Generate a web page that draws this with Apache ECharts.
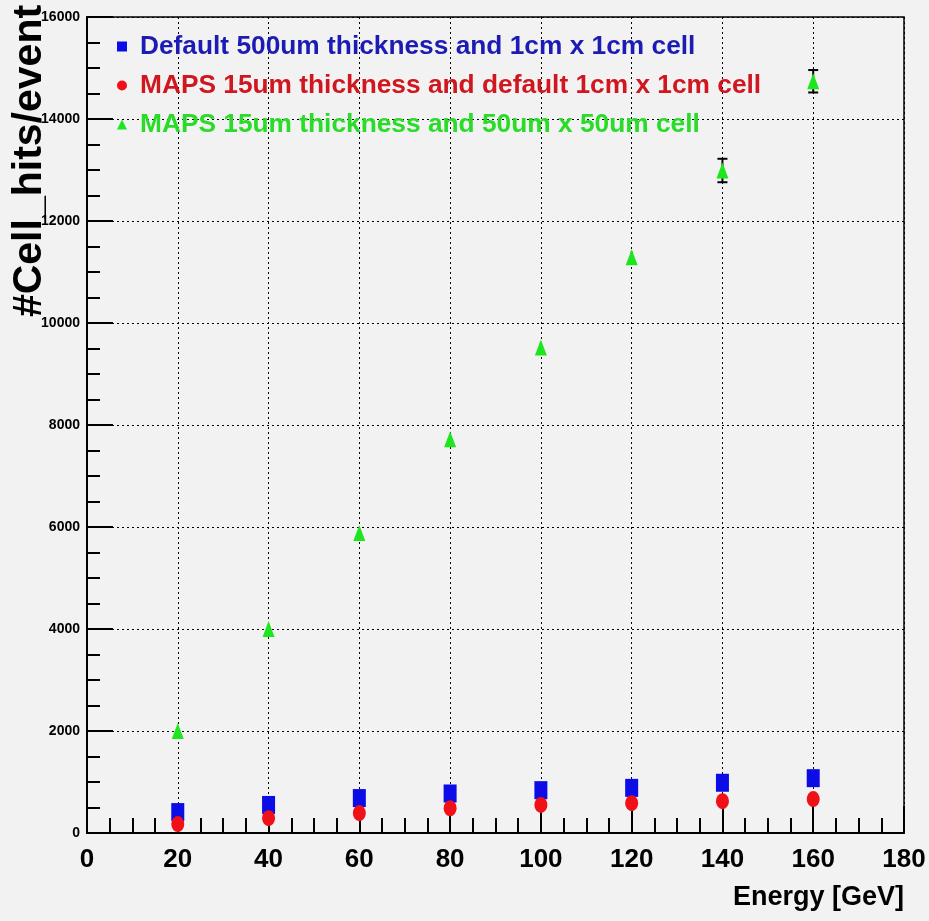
<!DOCTYPE html>
<html>
<head>
<meta charset="utf-8">
<script src="https://cdn.jsdelivr.net/npm/echarts@6/dist/echarts.min.js"></script>
<style>
html,body{margin:0;padding:0;background:#f2f2f2;}
#chart{width:929px;height:921px;}
</style>
</head>
<body>
<div id="chart"></div>
<script>
var energies = [20, 40, 60, 80, 100, 120, 140, 160];
var defaultHits = [410, 550, 685, 775, 840, 885, 985, 1075];
var mapsDefaultCellHits = [175, 290, 390, 485, 550, 585, 625, 665];
var mapsSmallCellHits = [2000, 4000, 5880, 7720, 9520, 11290, 12990, 14740];
var mapsSmallCellErr = [40, 60, 80, 90, 100, 110, 230, 220];
var xTicks = [0, 20, 40, 60, 80, 100, 120, 140, 160, 180];
var yTicks = [0, 2000, 4000, 6000, 8000, 10000, 12000, 14000, 16000];

var seriesNames = [
  'Default 500um thickness and 1cm x 1cm cell',
  'MAPS 15um thickness and default 1cm x 1cm cell',
  'MAPS 15um thickness and 50um x 50um cell'
];

var font = "'Liberation Sans', Arial, Helvetica, sans-serif";

function pairs(xs, ys) {
  return xs.map(function (x, i) { return [x, ys[i]]; });
}

var chart = echarts.init(document.getElementById('chart'));
chart.setOption({
  backgroundColor: '#f2f2f2',
  animation: false,
  grid: {
    left: 87, right: 25, top: 17, bottom: 88,
    containLabel: false, outerBoundsMode: 'none',
    show: true, borderColor: '#000', borderWidth: 1.5, backgroundColor: 'transparent'
  },
  legend: {
    orient: 'vertical',
    left: 112, top: 25,
    itemGap: 6,
    itemWidth: 10, itemHeight: 10,
    textStyle: { fontFamily: font, fontWeight: 'bold', fontSize: 26.3, lineHeight: 33, padding: [0, 0, 0, 8] },
    data: [
      { name: seriesNames[0], icon: 'rect', textStyle: { color: '#1c1cb4' } },
      { name: seriesNames[1], icon: 'circle', textStyle: { color: '#d0161e' } },
      { name: seriesNames[2], icon: 'triangle', textStyle: { color: '#28dc28' } }
    ]
  },
  xAxis: {
    type: 'value', min: xTicks[0], max: xTicks[xTicks.length - 1], interval: 20,
    name: 'Energy [GeV]', nameLocation: 'end', nameGap: 0,
    nameTextStyle: { fontFamily: font, fontWeight: 'bold', fontSize: 27, color: '#000',
      align: 'right', verticalAlign: 'top', padding: [51, 0, 0, 0] },
    axisLine: { show: true, onZero: false, lineStyle: { color: '#000', width: 2 } },
    axisTick: { show: true, inside: true, length: 27, lineStyle: { color: '#000', width: 2 } },
    minorTick: { show: true, splitNumber: 4, length: 15, lineStyle: { color: '#000', width: 2 } },
    splitLine: { show: true, lineStyle: { color: '#000', width: 1, type: [2, 3] } },
    axisLabel: { fontFamily: font, fontWeight: 'bold', fontSize: 26, color: '#000', margin: 14 }
  },
  yAxis: {
    type: 'value', min: yTicks[0], max: yTicks[yTicks.length - 1], interval: 2000,
    name: '#Cell_hits/event', nameLocation: 'middle', nameGap: 37, nameRotate: 90,
    nameMoveOverlap: false,
    nameTextStyle: { fontFamily: font, fontWeight: 'bold', fontSize: 41, color: '#000',
      padding: [0, 0, 0, 528] },
    axisLine: { show: true, onZero: false, lineStyle: { color: '#000', width: 2 } },
    axisTick: { show: true, inside: true, length: 26, lineStyle: { color: '#000', width: 2 } },
    minorTick: { show: true, splitNumber: 4, length: 13, lineStyle: { color: '#000', width: 2 } },
    splitLine: { show: true, lineStyle: { color: '#000', width: 1, type: [2, 3] } },
    axisLabel: { fontFamily: font, fontWeight: 'bold', fontSize: 14, color: '#000', margin: 7,
      formatter: function (v) { return String(v); } }
  },
  series: [
    {
      name: seriesNames[2] + ' error', type: 'custom', z: 2, silent: true,
      data: energies.map(function (e, i) { return [e, mapsSmallCellHits[i] - mapsSmallCellErr[i], mapsSmallCellHits[i] + mapsSmallCellErr[i]]; }),
      renderItem: function (params, api) {
        var lo = api.coord([api.value(0), api.value(1)]);
        var hi = api.coord([api.value(0), api.value(2)]);
        var s = { stroke: '#000', lineWidth: 2 };
        var children = [
          { type: 'line', shape: { x1: lo[0], y1: lo[1], x2: hi[0], y2: hi[1] }, style: s }
        ];
        // caps only drawn when the bar sticks out of the marker
        if (Math.abs(lo[1] - hi[1]) / 2 > 8) {
          children.push({ type: 'line', shape: { x1: lo[0] - 5, y1: lo[1], x2: lo[0] + 5, y2: lo[1] }, style: s });
          children.push({ type: 'line', shape: { x1: hi[0] - 5, y1: hi[1], x2: hi[0] + 5, y2: hi[1] }, style: s });
        }
        return { type: 'group', children: children };
      }
    },
    {
      name: seriesNames[0], type: 'scatter', symbol: 'rect', symbolSize: [13, 18],
      itemStyle: { color: '#0c0ce6', opacity: 1 }, data: pairs(energies, defaultHits), z: 3
    },
    {
      name: seriesNames[1], type: 'scatter', symbol: 'circle', symbolSize: [13, 16],
      itemStyle: { color: '#f01018', opacity: 1 }, data: pairs(energies, mapsDefaultCellHits), z: 4
    },
    {
      name: seriesNames[2], type: 'scatter', symbol: 'triangle', symbolSize: [12, 16],
      itemStyle: { color: '#1ee61e', opacity: 1 }, data: pairs(energies, mapsSmallCellHits), z: 4
    }
  ]
});
</script>
</body>
</html>
